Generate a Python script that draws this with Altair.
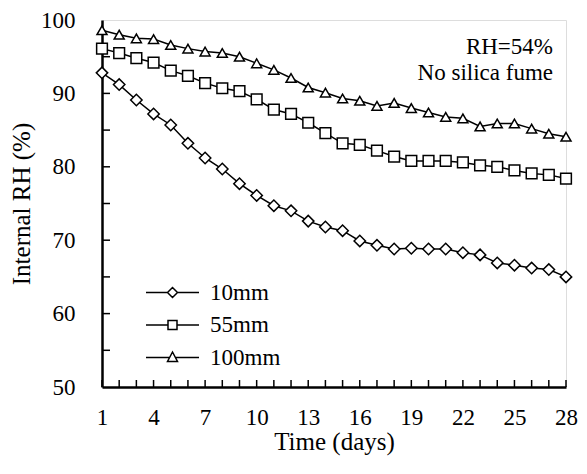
import altair as alt
import pandas as pd

days = list(range(1, 29))
series_names = ["10mm", "55mm", "100mm"]
rh_10mm = [92.8, 91.2, 89.1, 87.2, 85.7, 83.2, 81.2, 79.7, 77.7, 76.1,
           74.7, 74.0, 72.6, 71.8, 71.3, 69.9, 69.3, 68.8, 68.9, 68.8,
           68.8, 68.3, 68.0, 66.9, 66.6, 66.2, 66.0, 65.0]
rh_55mm = [96.1, 95.5, 94.8, 94.2, 93.1, 92.4, 91.4, 90.7, 90.3, 89.2,
           87.8, 87.2, 86.0, 84.6, 83.2, 83.0, 82.2, 81.4, 80.8, 80.8,
           80.8, 80.6, 80.2, 80.0, 79.5, 79.1, 78.9, 78.4]
rh_100mm = [98.6, 98.0, 97.5, 97.4, 96.6, 96.1, 95.7, 95.5, 95.0, 94.1,
            93.2, 92.1, 90.8, 90.1, 89.3, 89.0, 88.3, 88.7, 88.0, 87.4,
            86.8, 86.6, 85.5, 85.9, 85.9, 85.2, 84.5, 84.1]
x_label_values = [1, 4, 7, 10, 13, 16, 19, 22, 25, 28]
y_label_values = [50, 60, 70, 80, 90, 100]
y_tick_values = [55, 60, 65, 70, 75, 80, 85, 90, 95]
annotation_text = "RH=54%\nNo silica fume"

rows = []
for name, vals in zip(series_names, [rh_10mm, rh_55mm, rh_100mm]):
    for d, v in zip(days, vals):
        rows.append({"day": d, "rh": v, "series": name})
df = pd.DataFrame(rows)

W, H = 464, 367
FONT = "Liberation Serif"

xscale = alt.Scale(domain=[1, 28], nice=False, zero=False)
yscale = alt.Scale(domain=[50, 100], nice=False, zero=False)

lines = alt.Chart(df).mark_line(color="black", strokeWidth=1.5).encode(
    x=alt.X("day:Q", scale=xscale, axis=None),
    y=alt.Y("rh:Q", scale=yscale, axis=None),
    detail="series:N",
)

# inward tick marks built from the main table (one row per day) and a tick table
x_ticks = alt.Chart(df).transform_filter(
    alt.datum.series == "10mm"
).mark_rule(color="black", strokeWidth=1.5, opacity=1).encode(
    x=alt.X("day:Q", scale=xscale, axis=None),
    y=alt.value(H - 7), y2=alt.value(H),
)
y_ticks = alt.Chart(pd.DataFrame({"rh": y_tick_values})).mark_rule(
    color="black", strokeWidth=1.5, opacity=1
).encode(
    y=alt.Y("rh:Q", scale=yscale, axis=None),
    x=alt.value(0), x2=alt.value(8),
)

points = alt.Chart(df).mark_point(
    filled=True, fill="white", stroke="black", strokeWidth=1.5, opacity=1
).encode(
    x=alt.X("day:Q", scale=xscale, axis=alt.Axis(
        orient="bottom", values=x_label_values, ticks=False, domain=True,
        domainColor="black", domainWidth=2.5, labelPadding=19, labelFlush=False,
        labelFont=FONT, labelFontSize=23, labelColor="black",
        title="Time (days)", titleFont=FONT, titleFontSize=25,
        titleFontWeight="normal", titleColor="black", titlePadding=0, grid=False)),
    y=alt.Y("rh:Q", scale=yscale, axis=alt.Axis(
        orient="left", values=y_label_values, ticks=False, domain=True,
        domainColor="black", domainWidth=2.5, labelPadding=27, labelFlush=False,
        labelFont=FONT, labelFontSize=23, labelColor="black",
        title="Internal RH (%)", titleFont=FONT, titleFontSize=25,
        titleFontWeight="normal", titleColor="black", titlePadding=6, grid=False)),
    shape=alt.Shape("series:N", scale=alt.Scale(
        domain=series_names, range=["diamond", "square", "triangle-up"]), legend=None),
    size=alt.Size("series:N", scale=alt.Scale(
        domain=series_names, range=[130, 100, 130]), legend=None),
)

legend_paths = [
    "M-2.65,0L-0.5,0M0.5,0L2.65,0M-0.5,0L0,-0.5L0.5,0L0,0.5Z",
    "M-2.65,0L-0.45,0M0.45,0L2.65,0M-0.45,-0.45L0.45,-0.45L0.45,0.45L-0.45,0.45Z",
    "M-2.65,0L-0.29,0M0.29,0L2.65,0M0,-0.55L0.5,0.4L-0.5,0.4Z",
]

legend_layer = alt.Chart(df).transform_calculate(
    off="datum.day + 1000"
).mark_point(
    filled=False, color="black", strokeWidth=1.5, opacity=1, clip=True
).encode(
    x=alt.X("off:Q", scale=xscale, axis=None),
    y=alt.Y("rh:Q", scale=yscale, axis=None),
    shape=alt.Shape("series:N", scale=alt.Scale(domain=series_names, range=legend_paths),
                    legend=alt.Legend(
                        orient="none", legendX=59, legendY=261, title=None,
                        padding=0, rowPadding=8.5, symbolSize=400,
                        symbolStrokeColor="black",
                        symbolStrokeWidth=1.5, symbolOpacity=1,
                        labelFont=FONT, labelFontSize=23, labelColor="black",
                        labelOffset=26)),
)

ann = alt.Chart(pd.DataFrame({"label": [annotation_text]})).mark_text(
    align="right", baseline="alphabetic", font=FONT, fontSize=23,
    lineBreak="\n", lineHeight=26, color="black"
).encode(
    x=alt.value(W - 13), y=alt.value(34), text="label:N"
)

chart = alt.layer(lines, x_ticks, y_ticks, points, legend_layer, ann).resolve_axis(
    x="independent", y="independent"
).resolve_scale(shape="independent").properties(
    width=W, height=H,
    autosize=alt.AutoSizeParams(type="none"),
    padding={"left": 94, "top": 12, "right": 13, "bottom": 79},
).configure_view(stroke="black", strokeWidth=1.5).configure(background="white")

chart.save("out.html", embed_options={"renderer": "svg", "actions": False})
